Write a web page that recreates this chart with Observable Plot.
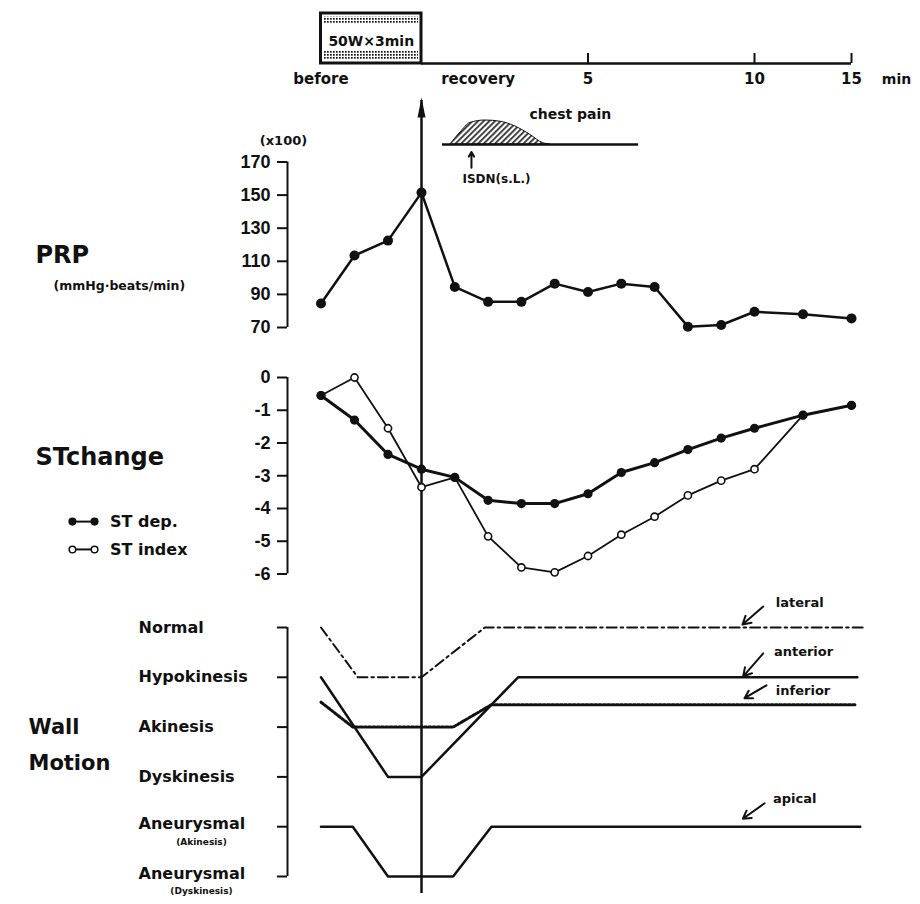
<!DOCTYPE html>
<html><head><meta charset="utf-8">
<script src="https://cdn.jsdelivr.net/npm/d3@7"></script>
<script src="https://cdn.jsdelivr.net/npm/@observablehq/plot@0.6"></script>
<style>
body{margin:0;background:#fff;}
#fig{position:relative;width:920px;height:904px;background:#fff;overflow:hidden;}
</style></head><body><div id="fig"></div>
<script>
// ---------------- data ----------------
// time in minutes: -3..0 = exercise (50W x 3min), 0 = end of exercise, then recovery
const minutes = [-3, -2, -1, 0, 1, 2, 3, 4, 5, 6, 7, 8, 9, 10, 12.5, 15];
const prp     = [84.5, 113.5, 122.5, 151.5, 94.5, 85.5, 85.5, 96.5, 91.5, 96.5, 94.5, 70.5, 71.5, 79.5, 78, 75.5];
const stDep   = [-0.55, -1.3, -2.35, -2.8, -3.05, -3.75, -3.85, -3.85, -3.55, -2.9, -2.6, -2.2, -1.85, -1.55, -1.15, -0.85];
const stIndex = [-0.55, 0.0, -1.55, -3.35, -3.05, -4.85, -5.8, -5.95, -5.45, -4.8, -4.25, -3.6, -3.15, -2.8, -1.15, -0.85];

const prpTicks = [70, 90, 110, 130, 150, 170];
const stTicks = [0, -1, -2, -3, -4, -5, -6];
const timeTicks = [5, 10, 15];
const phaseLabels = ["before", "recovery"];
const phaseTimes = [-3, 1.7];

const wmLevelNames = ["Normal", "Hypokinesis", "Akinesis", "Dyskinesis", "Aneurysmal", "Aneurysmal"];
const wmLevelSubs  = ["", "", "", "", "(Akinesis)", "(Dyskinesis)"];
const wmLevelValues = [0, 1, 2, 3, 4, 5];

const segNames = ["lateral", "anterior", "inferior", "apical"];
const lateralT  = [-3, -1.9, 0, 1.9, 15.6];      const lateralV  = [0, 1, 1, 0, 0];
const anteriorT = [-3, -1, 0, 2.9, 15.3];        const anteriorV = [1, 3, 3, 1, 1];
const inferiorT = [-3, -2.05, 0.95, 2.1, 15.2];  const inferiorV = [1.5, 2, 2, 1.55, 1.55];
const apicalT   = [-3, -2.05, -1, 0.95, 2.1, 15.45]; const apicalV = [4, 4, 5, 5, 4, 4];

const painT = [0.87, 1.17, 1.47, 1.92, 2.37, 2.82, 3.27, 3.66, 3.87];
const painV = [0, 0.5, 0.9, 1, 0.95, 0.75, 0.4, 0.05, 0];
const painWindow = [0.63, 6.52];
const isdnTime = 1.5;
const exercise = {start: -3, end: 0, label: "50W×3min"};

// ---------------- tables ----------------
const prpRows = minutes.map((t, i) => ({t, v: prp[i]}));
const depRows = minutes.map((t, i) => ({t, v: stDep[i]}));
const idxRows = minutes.map((t, i) => ({t, v: stIndex[i]}));
const painRows = painT.map((t, i) => ({t, v: painV[i]}));
const wmLevels = wmLevelValues.map((v, i) => ({v, name: wmLevelNames[i], sub: wmLevelSubs[i]}));
const wmData = {
  lateral: lateralT.map((t, i) => ({t, v: lateralV[i]})),
  anterior: anteriorT.map((t, i) => ({t, v: anteriorV[i]})),
  inferior: inferiorT.map((t, i) => ({t, v: inferiorV[i]})),
  apical: apicalT.map((t, i) => ({t, v: apicalV[i]}))
};
const wmStyle = {
  lateral: {strokeWidth: 2, strokeDasharray: "10,4,2.5,4"},
  anterior: {strokeWidth: 2.5},
  inferior: {strokeWidth: 3, strokeDasharray: "2.5,1.8"},
  apical: {strokeWidth: 2.5}
};
// label/arrow placement for the wall-motion segment names (annotation layout)
const wmNotes = [
  {name: "lateral",  x1: 10.45, y1: -0.42, x2: 9.64, y2: -0.06, tx: 11.1, ty: -0.5},
  {name: "anterior", x1: 10.45, y1: 0.52,  x2: 9.66, y2: 0.98,  tx: 11.0, ty: 0.48},
  {name: "inferior", x1: 10.62, y1: 1.16,  x2: 9.70, y2: 1.42,  tx: 11.1, ty: 1.27},
  {name: "apical",   x1: 10.52, y1: 3.53,  x2: 9.65, y2: 3.84,  tx: 10.95, ty: 3.45}
];

// ---------------- helpers ----------------
const INK = "#111";
const SANS = "DejaVu Sans, sans-serif";
const NUM = "Liberation Sans, Arial, sans-serif";
const fig = document.getElementById("fig");
const xScale = () => ({type: "linear", domain: [-4, 0, 10, 15], range: [287, 421, 754, 851], axis: null});
const arrowHead = {draw(ctx, size) {
  const s = Math.sqrt(size);
  ctx.moveTo(0, -1.2 * s); ctx.lineTo(0.4 * s, 0.8 * s); ctx.lineTo(-0.4 * s, 0.8 * s); ctx.closePath();
}};
function addPanel(top, height, y, marks, extra = {}) {
  const svg = Plot.plot({
    width: 920, height,
    marginLeft: 287, marginRight: 69,
    marginTop: extra.marginTop ?? 0, marginBottom: extra.marginBottom ?? 0,
    x: xScale(), y: {type: "linear", ...y},
    style: {background: "transparent", overflow: "visible", color: INK, fontFamily: SANS},
    marks
  });
  svg.style.position = "absolute"; svg.style.left = "0px"; svg.style.top = top + "px";
  if (extra.defs) d3.select(svg).insert("defs", ":first-child").html(extra.defs);
  fig.appendChild(svg);
}
const bold = (size, family = SANS) => ({fontSize: size, fontWeight: "bold", fontFamily: family, fill: INK});

// ---------------- top: time axis ----------------
addPanel(0, 95, {domain: [0, 1], range: [63, 13], axis: null}, [
  Plot.rect([exercise], {x1: "start", x2: "end", y1: 0.78, y2: 0.93, fill: "url(#boxdots)", insetLeft: 3, insetRight: 3}),
  Plot.rect([exercise], {x1: "start", x2: "end", y1: 0.08, y2: 0.24, fill: "url(#boxdots)", insetLeft: 3, insetRight: 3}),
  Plot.rect([exercise], {x1: "start", x2: "end", y1: 0, y2: 1, fill: "none", stroke: INK, strokeWidth: 3}),
  Plot.text([exercise], {x: d => (d.start + d.end) / 2, y: 0.43, text: "label", ...bold(14)}),
  Plot.ruleY([0], {x1: 0, x2: 15, stroke: INK, strokeWidth: 2.5}),
  Plot.ruleX(timeTicks, {x: d => d, y1: 0, y2: 0.2, stroke: INK, strokeWidth: 2}),
  Plot.text(timeTicks, {x: d => d, y: -0.32, text: d => String(d), ...bold(15)}),
  Plot.text(phaseLabels, {x: (d, i) => phaseTimes[i], y: -0.32, text: d => d, ...bold(15)}),
  Plot.text(["min"], {x: 15, y: -0.32, dx: 45, text: d => d, ...bold(14)})
], {defs: `<pattern id="boxdots" width="3" height="3" patternUnits="userSpaceOnUse"><rect width="1.7" height="1.7" fill="#111"/></pattern>`});

// ---------------- PRP ----------------
addPanel(95, 250, {domain: [70, 170], range: [232, 66.5]}, [
  Plot.ruleX([-4], {y1: 70, y2: 170, stroke: INK, strokeWidth: 2}),
  Plot.axisY(prpTicks, {tickSize: 10, tickPadding: 7, strokeWidth: 2, label: null, tickFormat: d => String(d), ...bold(18, NUM)}),
  Plot.text(["(x100)"], {frameAnchor: "left", y: 183, dx: -4, textAnchor: "middle", text: d => d, ...bold(13)}),
  Plot.ruleX([0], {stroke: INK, strokeWidth: 2.5}),
  Plot.dot([0], {x: d => d, frameAnchor: "top", dy: 9, r: 5.6, symbol: arrowHead, fill: INK}),
  Plot.arrow([isdnTime], {x1: d => d, x2: d => d, y1: 166.5, y2: 176, headLength: 6, stroke: INK, strokeWidth: 2}),
  Plot.text(["ISDN(s.L.)"], {x: 1.23, y: 159.5, text: d => d, textAnchor: "start", ...bold(12)}),
  Plot.line(prpRows, {x: "t", y: "v", stroke: INK, strokeWidth: 2.5}),
  Plot.dot(prpRows, {x: "t", y: "v", r: 5, fill: INK}),
  Plot.text(["PRP"], {frameAnchor: "left", y: 113.5, dx: -252, textAnchor: "start", text: d => d, ...bold(24)}),
  Plot.text(["(mmHg·beats/min)"], {frameAnchor: "left", y: 95, dx: -234, textAnchor: "start", text: d => d, ...bold(12.5)})
], {marginTop: 5});

// ---------------- chest pain overlay ----------------
addPanel(100, 50, {domain: [0, 1], range: [44, 20], axis: null}, [
  Plot.areaY(painRows, {x: "t", y: "v", curve: "monotone-x", fill: "url(#painhatch)", stroke: INK, strokeWidth: 1}),
  Plot.ruleY([0], {x1: painWindow[0], x2: painWindow[1], stroke: INK, strokeWidth: 2.5}),
  Plot.text(["chest pain"], {x: 4.47, y: 1.25, text: d => d, ...bold(14)})
], {defs: `<pattern id="painhatch" width="4" height="4" patternUnits="userSpaceOnUse" patternTransform="rotate(45)"><rect width="4" height="4" fill="#fff"/><rect width="1.8" height="4" fill="#333"/></pattern>`});

// ---------------- ST change ----------------
const legend = [{label: "ST dep.", y: -4.4, filled: true}, {label: "ST index", y: -5.25, filled: false}];
addPanel(345, 255, {domain: [-6, 0], range: [228.5, 32]}, [
  Plot.ruleX([-4], {y1: -6, y2: 0, stroke: INK, strokeWidth: 2}),
  Plot.axisY(stTicks, {tickSize: 10, tickPadding: 7, strokeWidth: 2, label: null, tickFormat: d => d === 0 ? "0" : "-" + (-d), ...bold(18, NUM)}),
  Plot.ruleX([0], {stroke: INK, strokeWidth: 2.5}),
  Plot.line(idxRows, {x: "t", y: "v", stroke: INK, strokeWidth: 1.8}),
  Plot.line(depRows, {x: "t", y: "v", stroke: INK, strokeWidth: 3}),
  Plot.dot(idxRows, {x: "t", y: "v", r: 3.6, fill: "#fff", stroke: INK, strokeWidth: 1.6}),
  Plot.dot(depRows, {x: "t", y: "v", r: 4.6, fill: INK}),
  Plot.text(["STchange"], {frameAnchor: "left", y: -2.44, dx: -252, textAnchor: "start", text: d => d, ...bold(24)}),
  Plot.ruleY(legend, {y: "y", x1: -10.42, x2: -9.76, stroke: INK, strokeWidth: 2}),
  Plot.dot(legend, {x: -10.42, y: "y", r: 3.3, fill: d => d.filled ? INK : "#fff", stroke: INK, strokeWidth: 1.5}),
  Plot.dot(legend, {x: -9.76, y: "y", r: 3.3, fill: d => d.filled ? INK : "#fff", stroke: INK, strokeWidth: 1.5}),
  Plot.text(legend, {x: -9.3, y: "y", text: "label", textAnchor: "start", ...bold(16)})
]);

// ---------------- Wall motion ----------------
addPanel(600, 304, {domain: [0, 5], range: [27, 276], axis: null}, [
  Plot.ruleX([-4], {y1: 0, y2: 5, stroke: INK, strokeWidth: 2}),
  Plot.ruleY(wmLevels, {y: "v", x1: -4.3, x2: -4, stroke: INK, strokeWidth: 2}),
  Plot.text(wmLevels.filter(d => !d.sub), {frameAnchor: "left", y: "v", dx: -149, textAnchor: "start", text: "name", ...bold(16)}),
  Plot.text(wmLevels.filter(d => d.sub), {frameAnchor: "left", y: "v", dx: -149, dy: -3, textAnchor: "start", text: "name", ...bold(16)}),
  Plot.text(wmLevels.filter(d => d.sub), {frameAnchor: "left", y: "v", dx: -86, dy: 15, textAnchor: "middle", text: "sub", ...bold(9)}),
  Plot.text(["Wall", "Motion"], {frameAnchor: "left", y: (d, i) => [2.0, 2.73][i], dx: -259, textAnchor: "start", text: d => d, ...bold(21)}),
  Plot.ruleX([0], {stroke: INK, strokeWidth: 2.5}),
  ...segNames.map(name => Plot.line(wmData[name], {x: "t", y: "v", stroke: INK, ...wmStyle[name]})),
  Plot.arrow(wmNotes, {x1: "x1", y1: "y1", x2: "x2", y2: "y2", headLength: 7, stroke: INK, strokeWidth: 2}),
  Plot.text(wmNotes, {x: "tx", y: "ty", text: "name", textAnchor: "start", ...bold(13)})
], {marginBottom: 11});
</script></body></html>
